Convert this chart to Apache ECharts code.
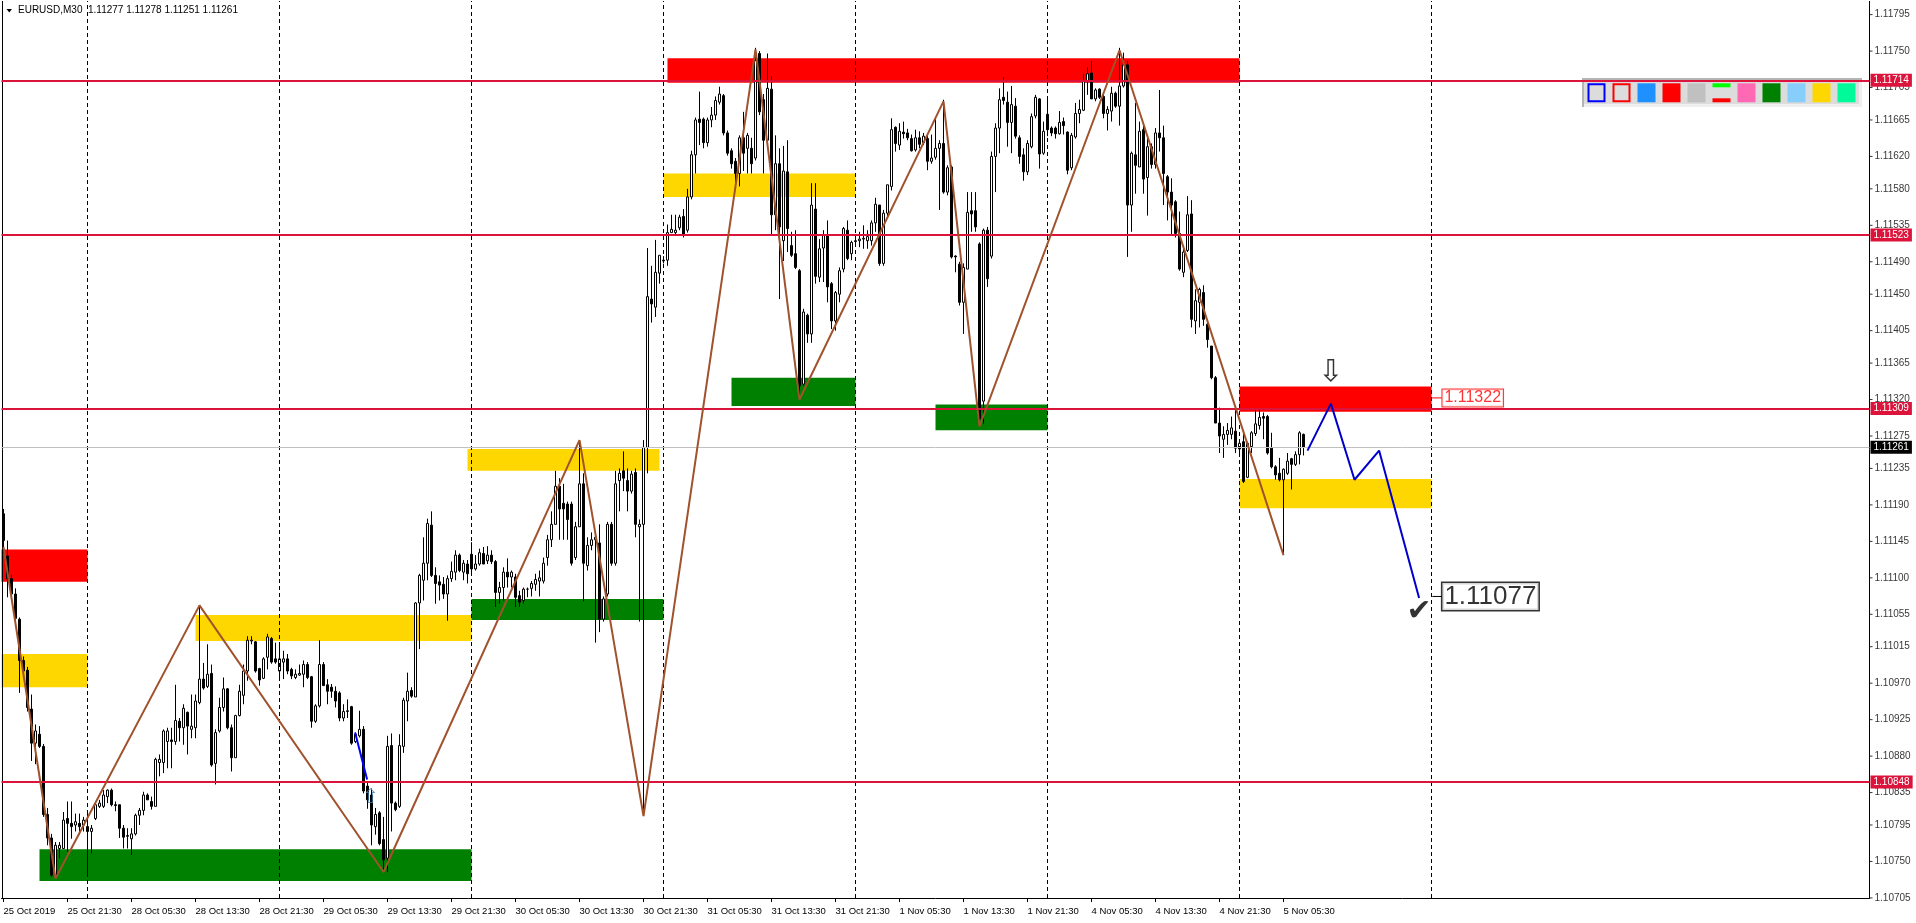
<!DOCTYPE html>
<html>
<head>
<meta charset="utf-8">
<title>EURUSD,M30</title>
<script src="https://cdn.jsdelivr.net/npm/echarts@6.0.0/dist/echarts.min.js"></script>
<style>
html,body{margin:0;padding:0;background:#ffffff;overflow:hidden;}
#chart{width:1916px;height:923px;}
</style>
</head>
<body>
<div id="chart"></div>
<script>
// ================= DATA =================
const symbolName = 'EURUSD';
const timeframe = 'M30';

// one row per 30-minute bar, starting 25 Oct 2019 13:30 : [open, high, low, close]
const candles = [
// 0
[1.11179,1.11185,1.11130,1.11146],[1.11127,1.11146,1.11076,1.11099],[1.11099,1.11104,1.11076,1.11080],[1.11080,1.11087,1.11047,1.11050],
[1.11049,1.11051,1.10958,1.10998],[1.10998,1.11003,1.10975,1.10985],[1.10986,1.10990,1.10935,1.10940],[1.10938,1.10956,1.10874,1.10896],
[1.10896,1.10919,1.10870,1.10911],[1.10907,1.10917,1.10890,1.10892],
// 10
[1.10892,1.10895,1.10805,1.10808],[1.10808,1.10816,1.10770,1.10779],[1.10779,1.10784,1.10731,1.10733],[1.10733,1.10774,1.10729,1.10770],
[1.10766,1.10774,1.10754,1.10770],[1.10766,1.10811,1.10766,1.10801],[1.10803,1.10824,1.10762,1.10797],[1.10797,1.10824,1.10778,1.10793],
[1.10795,1.10809,1.10787,1.10799],[1.10797,1.10809,1.10783,1.10793],
// 20
[1.10795,1.10805,1.10787,1.10801],[1.10793,1.10809,1.10733,1.10787],[1.10787,1.10795,1.10760,1.10791],[1.10803,1.10824,1.10801,1.10820],
[1.10818,1.10826,1.10816,1.10822],[1.10818,1.10838,1.10816,1.10832],[1.10830,1.10839,1.10822,1.10838],[1.10838,1.10840,1.10818,1.10820],
[1.10820,1.10824,1.10812,1.10819],[1.10820,1.10820,1.10779,1.10791],
// 30
[1.10791,1.10795,1.10766,1.10780],[1.10781,1.10791,1.10766,1.10782],[1.10778,1.10791,1.10758,1.10784],[1.10784,1.10809,1.10782,1.10807],
[1.10807,1.10816,1.10795,1.10813],[1.10813,1.10836,1.10807,1.10832],[1.10832,1.10834,1.10826,1.10826],[1.10824,1.10830,1.10814,1.10818],
[1.10818,1.10878,1.10818,1.10876],[1.10872,1.10882,1.10855,1.10876],
// 40
[1.10872,1.10913,1.10859,1.10911],[1.10898,1.10915,1.10865,1.10911],[1.10900,1.10915,1.10865,1.10898],[1.10898,1.10968,1.10894,1.10924],
[1.10923,1.10927,1.10898,1.10915],[1.10915,1.10944,1.10894,1.10939],[1.10934,1.10935,1.10882,1.10917],[1.10913,1.10956,1.10902,1.10917],
[1.10915,1.10956,1.10902,1.10948],[1.10946,1.11066,1.10944,1.10975],
// 50
[1.10975,1.10995,1.10962,1.10964],[1.10966,1.11018,1.10964,1.10981],[1.10982,1.10993,1.10867,1.10869],[1.10871,1.10913,1.10845,1.10909],
[1.10911,1.10952,1.10909,1.10940],[1.10940,1.10977,1.10935,1.10963],[1.10963,1.10964,1.10913,1.10915],[1.10915,1.10919,1.10861,1.10878],
[1.10878,1.10931,1.10878,1.10930],[1.10930,1.10968,1.10929,1.10960],
// 60
[1.10955,1.10993,1.10944,1.10985],[1.10985,1.11028,1.10973,1.11023],[1.11022,1.11028,1.11018,1.11023],[1.11021,1.11022,1.10983,1.10985],
[1.10988,1.10989,1.10967,1.10974],[1.10976,1.11002,1.10975,1.11000],[1.11002,1.11031,1.10987,1.11027],[1.11025,1.11027,1.10994,1.10996],
[1.11000,1.11020,1.10994,1.10996],[1.10985,1.11018,1.10973,1.11000],
// 70
[1.10996,1.11010,1.10975,1.11000],[1.11000,1.11006,1.10981,1.10985],[1.10987,1.10989,1.10975,1.10979],[1.10977,1.10987,1.10975,1.10981],
[1.10980,1.10993,1.10979,1.10982],[1.10981,1.10998,1.10965,1.10993],[1.10993,1.10996,1.10975,1.10977],[1.10978,1.10979,1.10915,1.10923],
[1.10923,1.10944,1.10921,1.10942],[1.10942,1.11023,1.10940,1.10993],
// 80
[1.10993,1.10996,1.10967,1.10967],[1.10968,1.10975,1.10944,1.10960],[1.10965,1.10969,1.10952,1.10960],[1.10960,1.10966,1.10940,1.10948],
[1.10958,1.10960,1.10923,1.10927],[1.10927,1.10944,1.10923,1.10935],[1.10935,1.10950,1.10927,1.10936],[1.10941,1.10942,1.10894,1.10896],
[1.10898,1.10909,1.10896,1.10907],[1.10905,1.10936,1.10903,1.10913],
// 90
[1.10913,1.10917,1.10834,1.10837],[1.10843,1.10847,1.10815,1.10826],[1.10832,1.10840,1.10770,1.10795],[1.10793,1.10816,1.10783,1.10808],
[1.10810,1.10812,1.10770,1.10772],[1.10777,1.10805,1.10737,1.10752],[1.10754,1.10905,1.10737,1.10892],[1.10893,1.10908,1.10787,1.10822],
[1.10822,1.10824,1.10812,1.10814],[1.10818,1.10907,1.10816,1.10893],
// 100
[1.10892,1.10952,1.10884,1.10949],[1.10948,1.10983,1.10923,1.10960],[1.10961,1.10965,1.10952,1.10954],[1.10953,1.11070,1.10953,1.11069],
[1.11069,1.11105,1.11012,1.11103],[1.11097,1.11150,1.11072,1.11118],[1.11118,1.11173,1.11097,1.11167],[1.11165,1.11182,1.11101,1.11103],
[1.11103,1.11113,1.11068,1.11093],[1.11095,1.11103,1.11072,1.11091],
// 110
[1.11092,1.11101,1.11074,1.11080],[1.11080,1.11103,1.11047,1.11099],[1.11099,1.11120,1.11095,1.11108],[1.11107,1.11134,1.11097,1.11128],
[1.11128,1.11130,1.11107,1.11109],[1.11107,1.11122,1.11097,1.11118],[1.11117,1.11122,1.11093,1.11105],[1.11129,1.11144,1.11107,1.11111],
[1.11111,1.11128,1.11109,1.11117],[1.11117,1.11136,1.11115,1.11131],
// 120
[1.11130,1.11138,1.11117,1.11117],[1.11121,1.11139,1.11117,1.11128],[1.11128,1.11134,1.11117,1.11120],[1.11120,1.11122,1.11064,1.11082],
[1.11082,1.11095,1.11068,1.11088],[1.11088,1.11113,1.11072,1.11107],[1.11107,1.11124,1.11088,1.11101],[1.11101,1.11109,1.11088,1.11107],
[1.11101,1.11105,1.11064,1.11076],[1.11078,1.11084,1.11064,1.11070],
// 130
[1.11072,1.11088,1.11068,1.11086],[1.11086,1.11088,1.11076,1.11086],[1.11087,1.11096,1.11077,1.11093],[1.11092,1.11105,1.11084,1.11098],
[1.11096,1.11109,1.11077,1.11100],[1.11096,1.11125,1.11093,1.11118],[1.11125,1.11153,1.11115,1.11147],[1.11147,1.11182,1.11138,1.11166],
[1.11166,1.11232,1.11166,1.11213],[1.11213,1.11223,1.11147,1.11185],
// 140
[1.11192,1.11216,1.11147,1.11185],[1.11191,1.11194,1.11147,1.11172],[1.11191,1.11194,1.11115,1.11118],[1.11125,1.11169,1.11122,1.11163],
[1.11163,1.11270,1.11163,1.11216],[1.11216,1.11229,1.11071,1.11118],[1.11115,1.11150,1.11109,1.11140],[1.11140,1.11156,1.11134,1.11147],
[1.11147,1.11153,1.11020,1.11150],[1.11143,1.11166,1.11033,1.11049],
// 150
[1.11049,1.11077,1.11046,1.11074],[1.11080,1.11169,1.11077,1.11166],[1.11166,1.11169,1.11115,1.11118],[1.11118,1.11232,1.11115,1.11216],
[1.11220,1.11235,1.11182,1.11229],[1.11232,1.11256,1.11207,1.11223],[1.11220,1.11235,1.11182,1.11207],[1.11207,1.11232,1.11204,1.11228],
[1.11230,1.11235,1.11150,1.11166],[1.11163,1.11172,1.11046,1.11166],
// 160
[1.11166,1.11270,1.10806,1.11261],[1.11261,1.11507,1.11229,1.11447],[1.11444,1.11485,1.11415,1.11438],[1.11434,1.11517,1.11422,1.11477],
[1.11476,1.11498,1.11463,1.11498],[1.11491,1.11497,1.11488,1.11492],[1.11492,1.11536,1.11485,1.11526],[1.11526,1.11548,1.11526,1.11530],
[1.11526,1.11548,1.11523,1.11529],[1.11532,1.11548,1.11529,1.11545],
// 170
[1.11546,1.11555,1.11520,1.11523],[1.11529,1.11580,1.11526,1.11570],[1.11570,1.11627,1.11567,1.11622],[1.11622,1.11668,1.11599,1.11665],
[1.11666,1.11700,1.11634,1.11662],[1.11666,1.11668,1.11630,1.11637],[1.11637,1.11668,1.11632,1.11665],[1.11665,1.11681,1.11656,1.11671],
[1.11671,1.11694,1.11665,1.11689],[1.11687,1.11706,1.11684,1.11697],
// 180
[1.11695,1.11697,1.11646,1.11649],[1.11649,1.11652,1.11621,1.11624],[1.11627,1.11630,1.11605,1.11611],[1.11614,1.11618,1.11586,1.11599],
[1.11599,1.11646,1.11583,1.11643],[1.11643,1.11675,1.11602,1.11624],[1.11630,1.11649,1.11599,1.11646],[1.11630,1.11643,1.11599,1.11611],
[1.11618,1.11754,1.11615,1.11738],[1.11747,1.11750,1.11671,1.11675],
// 190
[1.11690,1.11697,1.11599,1.11640],[1.11640,1.11747,1.11634,1.11704],[1.11703,1.11719,1.11523,1.11548],[1.11548,1.11646,1.11529,1.11611],
[1.11611,1.11630,1.11444,1.11533],[1.11516,1.11633,1.11491,1.11602],[1.11601,1.11640,1.11502,1.11531],[1.11510,1.11527,1.11496,1.11498],
[1.11500,1.11529,1.11481,1.11483],[1.11479,1.11481,1.11322,1.11337],
// 200
[1.11339,1.11432,1.11337,1.11428],[1.11424,1.11426,1.11390,1.11401],[1.11401,1.11587,1.11390,1.11560],[1.11555,1.11587,1.11463,1.11472],
[1.11471,1.11518,1.11465,1.11506],[1.11507,1.11529,1.11465,1.11523],[1.11523,1.11541,1.11440,1.11459],[1.11463,1.11465,1.11407,1.11417],
[1.11417,1.11454,1.11405,1.11452],[1.11450,1.11483,1.11440,1.11479],
// 210
[1.11481,1.11533,1.11477,1.11531],[1.11529,1.11541,1.11492,1.11494],[1.11500,1.11516,1.11492,1.11514],[1.11515,1.11523,1.11512,1.11516],
[1.11516,1.11527,1.11508,1.11518],[1.11518,1.11535,1.11506,1.11519],[1.11516,1.11529,1.11506,1.11521],[1.11516,1.11541,1.11510,1.11538],
[1.11538,1.11569,1.11527,1.11561],[1.11560,1.11560,1.11485,1.11488],
// 220
[1.11488,1.11554,1.11485,1.11550],[1.11550,1.11585,1.11545,1.11585],[1.11583,1.11667,1.11578,1.11653],[1.11656,1.11657,1.11626,1.11636],
[1.11634,1.11661,1.11628,1.11651],[1.11650,1.11663,1.11642,1.11648],[1.11649,1.11654,1.11640,1.11643],[1.11642,1.11647,1.11626,1.11627],
[1.11628,1.11653,1.11626,1.11643],[1.11643,1.11651,1.11630,1.11635],
// 230
[1.11637,1.11649,1.11634,1.11645],[1.11642,1.11647,1.11603,1.11614],[1.11614,1.11647,1.11611,1.11618],[1.11619,1.11667,1.11616,1.11630],
[1.11630,1.11640,1.11554,1.11636],[1.11636,1.11690,1.11574,1.11576],[1.11576,1.11609,1.11572,1.11606],[1.11607,1.11609,1.11494,1.11496],
[1.11497,1.11498,1.11477,1.11496],[1.11487,1.11490,1.11436,1.11440],
// 240
[1.11440,1.11488,1.11401,1.11483],[1.11481,1.11576,1.11481,1.11551],[1.11553,1.11576,1.11527,1.11549],[1.11553,1.11576,1.11527,1.11533],
[1.11512,1.11514,1.11287,1.11296],[1.11318,1.11531,1.11290,1.11529],[1.11529,1.11533,1.11459,1.11469],[1.11497,1.11626,1.11494,1.11620],
[1.11620,1.11661,1.11576,1.11655],[1.11655,1.11704,1.11624,1.11690],
// 250
[1.11693,1.11718,1.11684,1.11689],[1.11687,1.11700,1.11632,1.11662],[1.11662,1.11707,1.11624,1.11684],[1.11682,1.11692,1.11642,1.11645],
[1.11643,1.11646,1.11611,1.11620],[1.11622,1.11630,1.11590,1.11601],[1.11601,1.11640,1.11597,1.11636],[1.11632,1.11673,1.11630,1.11669],
[1.11670,1.11696,1.11667,1.11693],[1.11691,1.11692,1.11605,1.11623],
// 260
[1.11624,1.11663,1.11622,1.11651],[1.11672,1.11694,1.11645,1.11653],[1.11655,1.11657,1.11645,1.11649],[1.11655,1.11657,1.11642,1.11648],
[1.11648,1.11676,1.11647,1.11662],[1.11663,1.11668,1.11647,1.11658],[1.11650,1.11651,1.11598,1.11603],[1.11606,1.11649,1.11603,1.11646],
[1.11644,1.11686,1.11642,1.11673],[1.11673,1.11690,1.11661,1.11678],
// 270
[1.11677,1.11722,1.11676,1.11713],[1.11712,1.11730,1.11696,1.11722],[1.11723,1.11738,1.11691,1.11691],[1.11691,1.11704,1.11688,1.11702],
[1.11703,1.11704,1.11691,1.11693],[1.11694,1.11698,1.11667,1.11673],[1.11673,1.11682,1.11652,1.11678],[1.11676,1.11706,1.11663,1.11698],
[1.11698,1.11700,1.11680,1.11682],[1.11682,1.11754,1.11658,1.11707],
// 280
[1.11707,1.11748,1.11705,1.11733],[1.11733,1.11738,1.11496,1.11560],[1.11560,1.11626,1.11527,1.11624],[1.11622,1.11686,1.11574,1.11609],
[1.11607,1.11663,1.11607,1.11651],[1.11653,1.11661,1.11574,1.11592],[1.11594,1.11645,1.11547,1.11632],[1.11632,1.11636,1.11605,1.11610],
[1.11610,1.11655,1.11605,1.11649],[1.11649,1.11702,1.11626,1.11643],
// 290
[1.11643,1.11658,1.11560,1.11599],[1.11595,1.11597,1.11541,1.11576],[1.11576,1.11593,1.11523,1.11560],[1.11564,1.11566,1.11520,1.11525],
[1.11525,1.11552,1.11479,1.11481],[1.11477,1.11506,1.11471,1.11502],[1.11504,1.11571,1.11502,1.11548],[1.11549,1.11566,1.11409,1.11419],
[1.11417,1.11456,1.11401,1.11442],[1.11440,1.11458,1.11409,1.11456],
// 300
[1.11452,1.11461,1.11411,1.11419],[1.11413,1.11415,1.11384,1.11394],[1.11386,1.11386,1.11345,1.11347],[1.11347,1.11349,1.11291,1.11291],
[1.11291,1.11310,1.11254,1.11275],[1.11271,1.11287,1.11248,1.11277],[1.11277,1.11291,1.11264,1.11282],[1.11277,1.11299,1.11271,1.11285],
[1.11281,1.11308,1.11254,1.11260],[1.11259,1.11271,1.11254,1.11266],
// 310
[1.11268,1.11279,1.11217,1.11219],[1.11224,1.11268,1.11223,1.11266],[1.11262,1.11281,1.11254,1.11279],[1.11278,1.11309,1.11275,1.11290],
[1.11288,1.11309,1.11283,1.11298],[1.11299,1.11304,1.11271,1.11297],[1.11299,1.11301,1.11252,1.11254],[1.11260,1.11279,1.11235,1.11237],
[1.11237,1.11239,1.11221,1.11227],[1.11229,1.11248,1.11219,1.11221],
// 320
[1.11221,1.11235,1.11128,1.11234],[1.11229,1.11254,1.11227,1.11244],[1.11247,1.11248,1.11209,1.11240],[1.11240,1.11256,1.11238,1.11252],
[1.11252,1.11281,1.11240,1.11279],[1.11277,1.11278,1.11251,1.11261]
];

// time-axis tick labels, one every 16 bars (8 hours)
const xTickLabels = ['25 Oct 2019','25 Oct 21:30','28 Oct 05:30','28 Oct 13:30','28 Oct 21:30','29 Oct 05:30','29 Oct 13:30',
  '29 Oct 21:30','30 Oct 05:30','30 Oct 13:30','30 Oct 21:30','31 Oct 05:30','31 Oct 13:30','31 Oct 21:30','1 Nov 05:30',
  '1 Nov 13:30','1 Nov 21:30','4 Nov 05:30','4 Nov 13:30','4 Nov 21:30','5 Nov 05:30'];
const xLabelStep = 16;
const totalSlots = 467;               // bars + empty right shift
const dayStartBars = [21,69,117,165,213,261,309,357];

// price-axis tick labels
const yTickLabels = ['1.11795','1.11750','1.11705','1.11665','1.11620','1.11580','1.11535','1.11490','1.11450',
  '1.11405','1.11365','1.11320','1.11275','1.11235','1.11190','1.11145','1.11100','1.11055','1.11015','1.10970',
  '1.10925','1.10880','1.10835','1.10795','1.10750','1.10705'];
const yMin = 1.107049, yMax = 1.118118;

// horizontal levels and current price
const levelLines = [1.11714, 1.11523, 1.11309, 1.10848];
const currentPrice = 1.11261;

// zones: [kind, fromBar, toBar, low, high]
const zones = [
  ['supply', -0.5, 21, 1.11095, 1.11135],
  ['pivot',  -0.5, 21, 1.10965, 1.11006],
  ['demand',    9, 117, 1.10726, 1.10765],
  ['pivot',    48, 117, 1.11022, 1.11054],
  ['demand',  117, 165, 1.11048, 1.11074],
  ['pivot',   116, 164, 1.11232, 1.11259],
  ['supply',  166, 309, 1.11711, 1.11741],
  ['pivot',   165, 213, 1.11570, 1.11599],
  ['demand',  182, 213, 1.11312, 1.11347],
  ['demand',  233, 261, 1.11282, 1.11314],
  ['supply',  309, 357, 1.11305, 1.11336],
  ['pivot',   309, 357, 1.11186, 1.11222]
];

// zigzag swing points [bar, price]
const zigzag = [[0,1.11138],[13,1.10729],[49,1.11066],[95,1.10737],[144,1.11270],[160,1.10806],
  [188,1.11752],[199,1.11320],[235,1.11688],[244,1.11287],[279,1.11751],[320,1.11128]];

// projected path [bar, price]
const forecast = [[326,1.11257],[331.85,1.11315],[337.75,1.11221],[343.9,1.11257],[353.9,1.11075]];
const smallTrend = [[87.9,1.10909],[90.9,1.10851]];

// symbols [bar, price, glyph]
const marks = [[331.8,1.11352,'⇩'],[91.7,1.10829,'⇧'],[353.9,1.11058,'✔']];
// price callouts [fromBar, toBar, price, text]
const callouts = [[357,359.6,1.11322,'1.11322'],[357.2,359.6,1.11077,'1.11077']];

// ================= STYLE =================
const FONT = '"Liberation Sans", Arial, sans-serif';
const zoneColors = {supply:'#FF0000', demand:'#008000', pivot:'#FFD700'};
const levelColor = '#DC143C';
const toolSwatches = [
  {fill:'#DCDCDC', stroke:'#0000FF'}, {fill:'#DCDCDC', stroke:'#FF0000'}, {fill:'#1E90FF'}, {fill:'#FF0000'},
  {fill:'#C0C0C0'}, {lines:true}, {fill:'#FF69B4'}, {fill:'#008000'}, {fill:'#87CEFA'}, {fill:'#FFD700'}, {fill:'#00FA9A'}
];

// ================= CHART =================
const chart = echarts.init(document.getElementById('chart'), null, {renderer:'canvas'});
const cats = Array.from({length: totalSlots}, (_, i) => String(i));
const yTickValues = yTickLabels.map(Number);
const showX = (i) => i % xLabelStep === 0 && i / xLabelStep < xTickLabels.length;
const last = candles[candles.length - 1];
const xLeftEdge = -0.5, xRightEdge = totalSlots - 0.5;

const hidden = {type:'line', xAxisIndex:1, yAxisIndex:0, data:[[0, currentPrice]], symbol:'none',
  lineStyle:{opacity:0}, silent:true, animation:false};

// toolbar graphics
const tb = {x:1582, y:78, w:280, h:29};
const toolbarEls = [
  {type:'rect', shape:{x:tb.x, y:tb.y, width:tb.w, height:tb.h}, style:{fill:'#DCDCDC'}},
  {type:'rect', shape:{x:tb.x, y:tb.h + tb.y - 3, width:tb.w, height:3}, style:{fill:'#EFEFEF'}},
  {type:'rect', shape:{x:tb.x + tb.w - 3, y:tb.y, width:3, height:tb.h}, style:{fill:'#EFEFEF'}},
  {type:'rect', shape:{x:tb.x, y:tb.y, width:tb.w, height:2}, style:{fill:'#B4B4B4'}},
  {type:'rect', shape:{x:tb.x, y:tb.y, width:2, height:tb.h}, style:{fill:'#B4B4B4'}}
];
toolSwatches.forEach((s, k) => {
  const x = tb.x + 5.5 + 25 * k, y = tb.y + 5.3, w = 18, h = 19;
  if (s.lines) {
    toolbarEls.push({type:'rect', shape:{x, y, width:w, height:4}, style:{fill:'#00FF00'}});
    toolbarEls.push({type:'rect', shape:{x, y:y + h - 4, width:w, height:4}, style:{fill:'#FF0000'}});
  } else if (s.stroke) {
    toolbarEls.push({type:'rect', shape:{x:x + 1, y:y + 1, width:w - 2, height:h - 2}, style:{fill:s.fill, stroke:s.stroke, lineWidth:2}});
  } else {
    toolbarEls.push({type:'rect', shape:{x, y, width:w, height:h}, style:{fill:s.fill}});
  }
});

const headerEls = [
  {type:'polygon', shape:{points:[[6.5,9],[12,9],[9.25,12.5]]}, style:{fill:'#000'}},
  {type:'text', left:18, top:5, style:{text: symbolName + ',' + timeframe + '  ' + last.map(v => v.toFixed(5)).join(' '),
    fill:'#000', font:'10px ' + FONT}}
];

const option = {
  animation:false,
  backgroundColor:'#ffffff',
  grid:{left:1.5, right:46.5, top:1, bottom:25, containLabel:false},
  xAxis:[{
    type:'category', data:cats, boundaryGap:true,
    axisLine:{show:true, onZero:false, lineStyle:{color:'#000', width:1}},
    axisTick:{show:true, interval:showX, alignWithLabel:true, length:4, lineStyle:{color:'#000'}},
    axisLabel:{show:true, interval:showX, formatter:(v, i) => (showX(i) ? xTickLabels[i / xLabelStep] : ''),
      align:'left', margin:8, color:'#000', fontSize:9.5, fontFamily:FONT},
    splitLine:{show:false}
  },{
    type:'value', min:xLeftEdge, max:xRightEdge, show:false
  }],
  yAxis:[{
    type:'value', position:'right', min:yMin, max:yMax, show:false,
    axisLine:{show:false, onZero:false}, splitLine:{show:false}
  }],
  graphic:{elements: toolbarEls.concat(headerEls)},
  series:[
    Object.assign({}, hidden, {z:1,
      markArea:{silent:true, data: zones.map(z => [
        {coord:[z[1], z[3]], itemStyle:{color:zoneColors[z[0]], opacity:1, borderWidth:0}},
        {coord:[z[2], z[4]]}
      ])}
    }),
    // day separators and plot borders
    Object.assign({}, hidden, {z:2,
      markLine:{silent:true, symbol:['none','none'], precision:6, label:{show:false},
        data: dayStartBars.map(b => ({xAxis:b, lineStyle:{color:'#000', type:[4,3], width:1}}))
          .concat([{xAxis:xLeftEdge + 0.25, lineStyle:{color:'#000', type:'solid', width:1}},
                   {xAxis:xRightEdge, lineStyle:{color:'#000', type:'solid', width:1}}])}
    }),
    // price-axis ticks and labels
    {type:'scatter', xAxisIndex:1, yAxisIndex:0, z:1, silent:true, clip:false,
      symbol:'rect', symbolSize:[3,1], symbolOffset:[1.5,0], itemStyle:{color:'#000'},
      data: yTickValues.map(v => [xRightEdge, v]),
      label:{show:true, position:'right', distance:2, formatter:(p) => p.value[1].toFixed(5),
        color:'#000', fontSize:10, fontFamily:FONT}
    },
    {
      type:'candlestick', xAxisIndex:0, yAxisIndex:0, z:3, silent:true,
      data: candles.map(c => [c[0], c[3], c[2], c[1]]),
      barWidth:2,
      itemStyle:{color:'#ffffff', color0:'#000000', borderColor:'#000000', borderColor0:'#000000',
        borderColorDoji:'#000000', borderWidth:1}
    },
    Object.assign({}, hidden, {z:4,
      markLine:{silent:true, symbol:['none','none'], precision:6,
        data: [{yAxis:currentPrice,
          lineStyle:{color:'#C0C0C0', width:1, type:'solid'},
          label:{show:true, position:'end', distance:1, formatter:currentPrice.toFixed(5), backgroundColor:'#000000',
            color:'#ffffff', padding:[2,3,1,3], fontSize:10, fontFamily:FONT}
        }].concat(levelLines.map(v => ({yAxis:v,
          lineStyle:{color:levelColor, width:2, type:'solid'},
          label:{show:true, position:'end', distance:1, formatter:v.toFixed(5), backgroundColor:levelColor,
            color:'#ffffff', padding:[2,3,1,3], fontSize:10, fontFamily:FONT}
        })))
      }
    }),
    {type:'line', xAxisIndex:1, yAxisIndex:0, z:5, data:zigzag, symbol:'none', silent:true,
      lineStyle:{color:'#A0522D', width:2}},
    {type:'line', xAxisIndex:1, yAxisIndex:0, z:5, data:forecast, symbol:'none', silent:true,
      lineStyle:{color:'#0000CD', width:2}},
    {type:'line', xAxisIndex:1, yAxisIndex:0, z:5, data:smallTrend, symbol:'none', silent:true,
      lineStyle:{color:'#0000FF', width:2}},
    ...callouts.map((c, k) => ({type:'line', xAxisIndex:1, yAxisIndex:0, z:5, symbol:'none', silent:true,
      data:[[c[0], c[2]], [c[1], c[2]]], lineStyle:{color: k === 0 ? '#FF0000' : '#000000', width:1}})),
    {type:'scatter', xAxisIndex:1, yAxisIndex:0, z:6, silent:true, symbolSize:1, clip:false,
      itemStyle:{color:'rgba(0,0,0,0)'},
      data: callouts.map((c, k) => ({value:[c[1], c[2]],
        label:{show:true, position:'right', distance:0, formatter:c[3],
          color: k === 0 ? '#FF0000' : '#000000', backgroundColor:'#ffffff',
          borderColor: k === 0 ? '#FF0000' : '#000000', borderWidth: k === 0 ? 1 : 1.5,
          padding:[1,2,0,2], fontSize: k === 0 ? 16 : 26, fontFamily:FONT}}))
    },
    {type:'scatter', xAxisIndex:1, yAxisIndex:0, z:6, silent:true, symbolSize:1,
      itemStyle:{color:'rgba(0,0,0,0)'},
      data: marks.map((m, k) => ({value:[m[0], m[1]],
        label:{show:true, position:'inside', formatter:m[2],
          color: k === 1 ? '#4682B4' : '#000000',
          fontSize: k === 0 ? 30 : (k === 1 ? 20 : 30), fontFamily:'"DejaVu Sans", sans-serif'}}))
    }
  ]
};
chart.setOption(option);
</script>
</body>
</html>
